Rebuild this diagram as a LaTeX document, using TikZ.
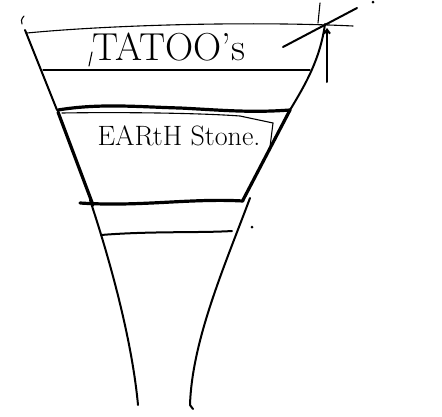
\documentclass[tikz,border=0pt]{standalone}
\usepackage{fontspec}
\usetikzlibrary{arrows.meta}
\begin{document}
\begin{tikzpicture}[x=1pt,y=-1pt,
  thin line/.style={line width=1.1pt, line cap=round},
  pen/.style={line width=2pt, line cap=round, line join=round},
  heavy/.style={line width=3.2pt, line cap=round, line join=round},
  hand/.style={inner sep=0pt}]
\useasboundingbox (0,0) rectangle (442,416);
% left outline
\draw[pen] (25,30) -- (57,110);
\draw[pen] (90,200) .. controls (110,260) and (132,340) .. (138,405);
% right outline
\draw[pen] (325,24) .. controls (320,60) and (305,85) .. (290,110);
\draw[heavy] (290,110) -- (243,200);
\draw[pen] (250,198) .. controls (225,265) and (192,340) .. (190,405) -- (193,409);
% small mark at top left
\draw[thin line] (24,16) .. controls (21,19) and (21,22) .. (22,24);
% top line
\draw[thin line] (27,33) .. controls (110,25) and (250,21) .. (353,26);
% second line
\draw[thin line] (43,70) -- (310,70);
% box top (thick, wavy)
\draw[heavy] (58,110) .. controls (100,103) and (140,107) .. (180,108)
  .. controls (220,110) and (250,113) .. (290,110);
\draw[thin line] (62,113) .. controls (120,112) and (200,113) .. (240,116) -- (273,123);
\draw[heavy] (58,112) -- (93,205);
% box bottom (thick)
\draw[heavy] (80,203) .. controls (140,207) and (190,198) .. (243,201);
% third line
\draw[pen] (101,235) .. controls (150,231) and (200,233) .. (232,231);
% inner bracket mark
\draw[thin line] (273,123) -- (270,147);
% marks at top right
\draw[pen] (283,47) -- (357,8);
\draw[thin line] (320,3) -- (318,23);
\draw[pen,-{Straight Barb[length=4pt,width=6pt]}] (327,82) -- (327,28);
\fill (373,2) circle (1.5pt);
\fill (252,227) circle (1.5pt);
% texts
\node[hand, font=\fontsize{39}{41}\selectfont] (tattoo) at (169,47) {TATOO's};
\draw[thin line] (92,52) -- (89,66);
\node[hand, font=\fontsize{28}{30}\selectfont] (stone) at (179,136) {EARtH Stone.};
\end{tikzpicture}
\end{document}
